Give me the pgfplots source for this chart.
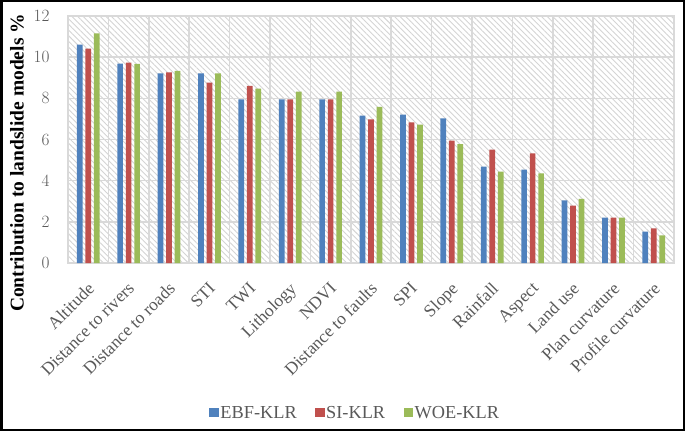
\documentclass[border=0pt]{standalone}
\usepackage{fontspec}
\setmainfont{Liberation Serif}
\usepackage{pgfplots}
\pgfplotsset{compat=1.18}
\usetikzlibrary{patterns.meta}

\definecolor{cblue}{HTML}{4F81BD}
\definecolor{cred}{HTML}{C0504D}
\definecolor{cgreen}{HTML}{9BBB59}
\definecolor{tickgray}{HTML}{595959}
\definecolor{gridgray}{HTML}{D9D9D9}
\definecolor{hatchgray}{HTML}{D4D4D4}

\pgfplotstableread{
x ebf si woe
0 10.61 10.42 11.15
1 9.69 9.74 9.68
2 9.21 9.26 9.34
3 9.21 8.76 9.21
4 7.95 8.61 8.47
5 7.95 7.95 8.32
6 7.95 7.95 8.32
7 7.16 6.98 7.59
8 7.21 6.83 6.72
9 7.03 5.95 5.77
10 4.68 5.51 4.44
11 4.54 5.32 4.35
12 3.04 2.79 3.12
13 2.21 2.21 2.21
14 1.53 1.68 1.34
}\datatable

\begin{document}
\begin{tikzpicture}[x=1bp,y=1bp]
\draw[line width=2.5bp] (1.25,1.25) rectangle (683.75,429.75);
\begin{axis}[
 at={(68bp,168bp)}, anchor=south west,
 scale only axis, width=606bp, height=247bp,
 ybar=2.8bp, bar width=5.7bp,
 xmin=-0.5, xmax=14.5, ymin=0, ymax=12,
 xtick={0,...,14},
 xticklabels={Altitude,Distance to rivers,Distance to roads,STI,TWI,Lithology,NDVI,Distance to faults,SPI,Slope,Rainfall,Aspect,Land use,Plan curvature,Profile curvature},
 minor xtick={0.5,1.5,...,13.5},
 xminorgrids, ymajorgrids,
 ytick={0,2,...,12},
 major tick length=0, minor tick length=0,
 axis line style={gridgray, line width=1.5bp},
 grid style={gridgray, line width=1.5bp},
 minor grid style={gridgray, line width=1.5bp},
 axis background/.style={pattern={Lines[angle=-45, distance=4bp, line width=0.9bp]}, pattern color=hatchgray},
 yticklabel style={text=tickgray, font=\fontsize{16.5bp}{18bp}\selectfont, xshift=-15bp},
 xticklabel style={text=tickgray, font=\fontsize{17.5bp}{19bp}\selectfont, inner sep=0pt, xshift=-1.5bp, yshift=-18bp, rotate=45, anchor=north east},
 legend columns=3,
 legend style={draw=none, fill=none, at={(0.4736,-0.607)}, anchor=center,
   font=\fontsize{18.3bp}{20bp}\selectfont, text=tickgray,
   nodes={inner sep=1.5bp},
   /tikz/every even column/.append style={column sep=17bp}},
 legend cell align=left,
 legend image code/.code={\fill[#1] (0bp,-4.5bp) rectangle (9.5bp,4.5bp);},
]
\addplot[fill=cblue, draw=none] table[x=x, y=ebf] {\datatable};
\addplot[fill=cred, draw=none] table[x=x, y=si] {\datatable};
\addplot[fill=cgreen, draw=none] table[x=x, y=woe] {\datatable};
\legend{EBF-KLR, SI-KLR, WOE-KLR}
\end{axis}
\node[rotate=90, font=\bfseries\fontsize{19.5bp}{21bp}\selectfont] at (17,268) {Contribution to landslide models \%};
\end{tikzpicture}
\end{document}
